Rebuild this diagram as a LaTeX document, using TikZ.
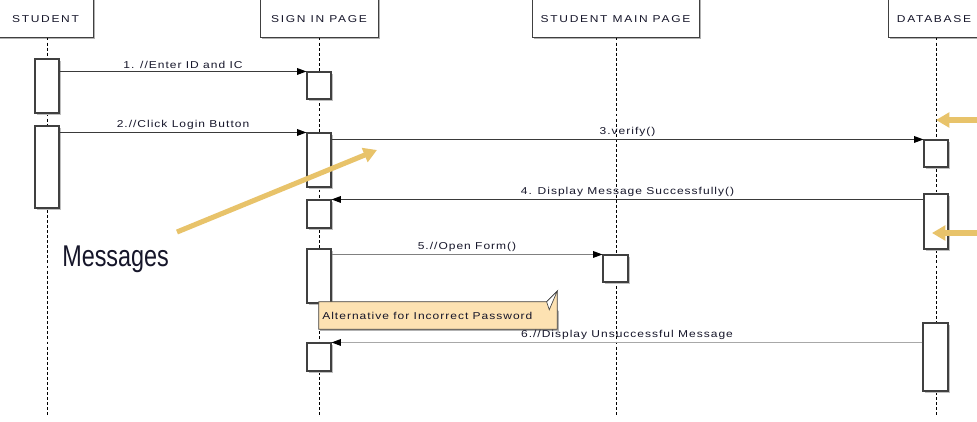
\documentclass[tikz,border=0pt]{standalone}
\usepackage{fontspec}
\setmainfont{Liberation Sans}
\newfontfamily\msgfont[FakeStretch=1.2,LetterSpace=10]{Liberation Sans}
\newfontfamily\headfont[FakeStretch=1.2,LetterSpace=17]{Liberation Sans}
\newfontfamily\bigfont[FakeStretch=0.78]{Liberation Sans}
\usetikzlibrary{arrows.meta,fit,shadows}
\definecolor{boxline}{HTML}{404040}
\definecolor{msgdark}{HTML}{3A3A3A}
\definecolor{msgmid}{HTML}{808080}
\definecolor{msglight}{HTML}{A8A8A8}
\definecolor{textcol}{HTML}{16162A}
\definecolor{notefill}{HTML}{FDE2B2}
\definecolor{annot}{HTML}{E8C36A}
\begin{document}
\begin{tikzpicture}[x=0.75pt,y=-0.75pt,
  head/.style={draw=boxline,line width=0.75pt,fill=white,inner sep=0pt,
    drop shadow={shadow xshift=1.2pt,shadow yshift=-1.2pt,fill=black!30,opacity=1}},
  headtext/.style={font=\headfont\fontsize{7.5}{8}\selectfont,text=textcol,yshift=-2.4pt},
  act/.style={draw=boxline,line width=0.8pt,fill=white,inner sep=0pt,
    drop shadow={shadow xshift=1.2pt,shadow yshift=-1.2pt,fill=black!25,opacity=1}},
  lifeline/.style={draw=black,line width=0.6pt,dash pattern=on 2.2pt off 1.6pt},
  msg/.style={line width=0.75pt,draw=msgdark,-{Triangle[length=7pt,width=5pt,color=black]}},
  msgtext/.style={font=\msgfont\fontsize{7.5}{8}\selectfont,text=textcol,inner sep=1.5pt},
  annotarrow/.style={draw=annot,line width=3.8pt,-{Triangle[length=10pt,width=11pt]}},
]
\useasboundingbox (0,0) rectangle (977,421);
\fill[white] (0,0) rectangle (977,421);

% headers
\node[head,fit={(-2,-6) (93,37)},label={[headtext]center:STUDENT}] (hs) {};
\node[head,fit={(260,-6) (378,37)},label={[headtext]center:SIGN IN PAGE}] (hp) {};
\node[head,fit={(532,-6) (699,37)},label={[headtext]center:STUDENT MAIN PAGE}] (hm) {};
\node[head,fit={(888,-6) (980,37)},label={[headtext]center:DATABASE}] (hd) {};

% lifeline ends
\coordinate (es) at (47,415);
\coordinate (ep) at (319,415);
\coordinate (em) at (616,415);
\coordinate (ed) at (936,415);
\draw[lifeline] (hs.south -| es) -- (es);
\draw[lifeline] (hp.south -| ep) -- (ep);
\draw[lifeline] (hm.south -| em) -- (em);
\draw[lifeline] (hd.south -| ed) -- (ed);

% activations
\node[act,fit={(35,59) (59,113)}] (s1) {};
\node[act,fit={(35,126) (59,208)}] (s2) {};
\node[act,fit={(307,72) (331,99)}] (p1) {};
\node[act,fit={(307,133) (331,187)}] (p2) {};
\node[act,fit={(307,200) (331,228)}] (p3) {};
\node[act,fit={(307,249) (331,303)}] (p4) {};
\node[act,fit={(307,343) (331,371)}] (p5) {};
\node[act,fit={(603,255) (628,282)}] (m1) {};
\node[act,fit={(924,140) (948,167)}] (d1) {};
\node[act,fit={(924,194) (948,249)}] (d2) {};
\node[act,fit={(923,323) (948,391)}] (d3) {};

% note
\node[fit={(319,302) (557,329)},inner sep=0pt] (note) {};
\fill[black!30] ([shift={(1.5,1.5)}]note.north west) -- ([shift={(-6.5,1.5)}]note.north east)
  -- ([shift={(1.5,9.5)}]note.north east) -- ([shift={(1.5,1.5)}]note.south east)
  -- ([shift={(1.5,1.5)}]note.south west) -- cycle;
\filldraw[fill=notefill,draw=boxline,line width=0.6pt] (note.north west) -- ([xshift=-8]note.north east)
  -- ([yshift=8]note.north east) -- (note.south east) -- (note.south west) -- cycle;
\draw[boxline,line width=0.5pt,fill=white] ([xshift=-8]note.north east) -- ([shift={(-8,8)}]note.north east) -- ([yshift=8]note.north east) -- cycle;
\node[msgtext,anchor=west] at ([xshift=1]note.west) {Alternative for Incorrect Password};

% messages
\draw[msg] (s1.east |- p1.north) -- node[midway,above,msgtext] {1. //Enter ID and IC} (p1.north west);
\draw[msg] (s2.east |- p2.north) -- node[midway,above,msgtext] {2.//Click Login Button} (p2.north west);
\draw[msg] (p2.east |- d1.north) -- node[midway,above,msgtext] {3.verify()} (d1.north west);
\draw[msg] (d2.west |- p3.north) -- node[midway,above,msgtext] {4. Display Message Successfully()} (p3.north east);
\draw[msg,draw=msgmid] (p4.east |- m1.north) -- node[midway,above,msgtext] {5.//Open Form()} (m1.north west);
\draw[msg,draw=msglight] (d3.west |- p5.north) -- node[midway,above,msgtext] {6.//Display Unsuccessful Message} (p5.north east);

% annotations
\node[font=\bigfont\fontsize{22.5}{24}\selectfont,text=textcol,anchor=west,inner sep=0pt] (lbl) at (62,259) {Messages};
\coordinate (a1s) at (177,232);
\coordinate (a1e) at (377,150);
\coordinate (a2s) at (980,120);
\coordinate (a2e) at (936,120);
\coordinate (a3s) at (980,233);
\coordinate (a3e) at (932,233);
\draw[annotarrow] (a1s) -- (a1e);
\draw[annotarrow] (a2s) -- (a2e);
\draw[annotarrow] (a3s) -- (a3e);
\end{tikzpicture}
\end{document}
